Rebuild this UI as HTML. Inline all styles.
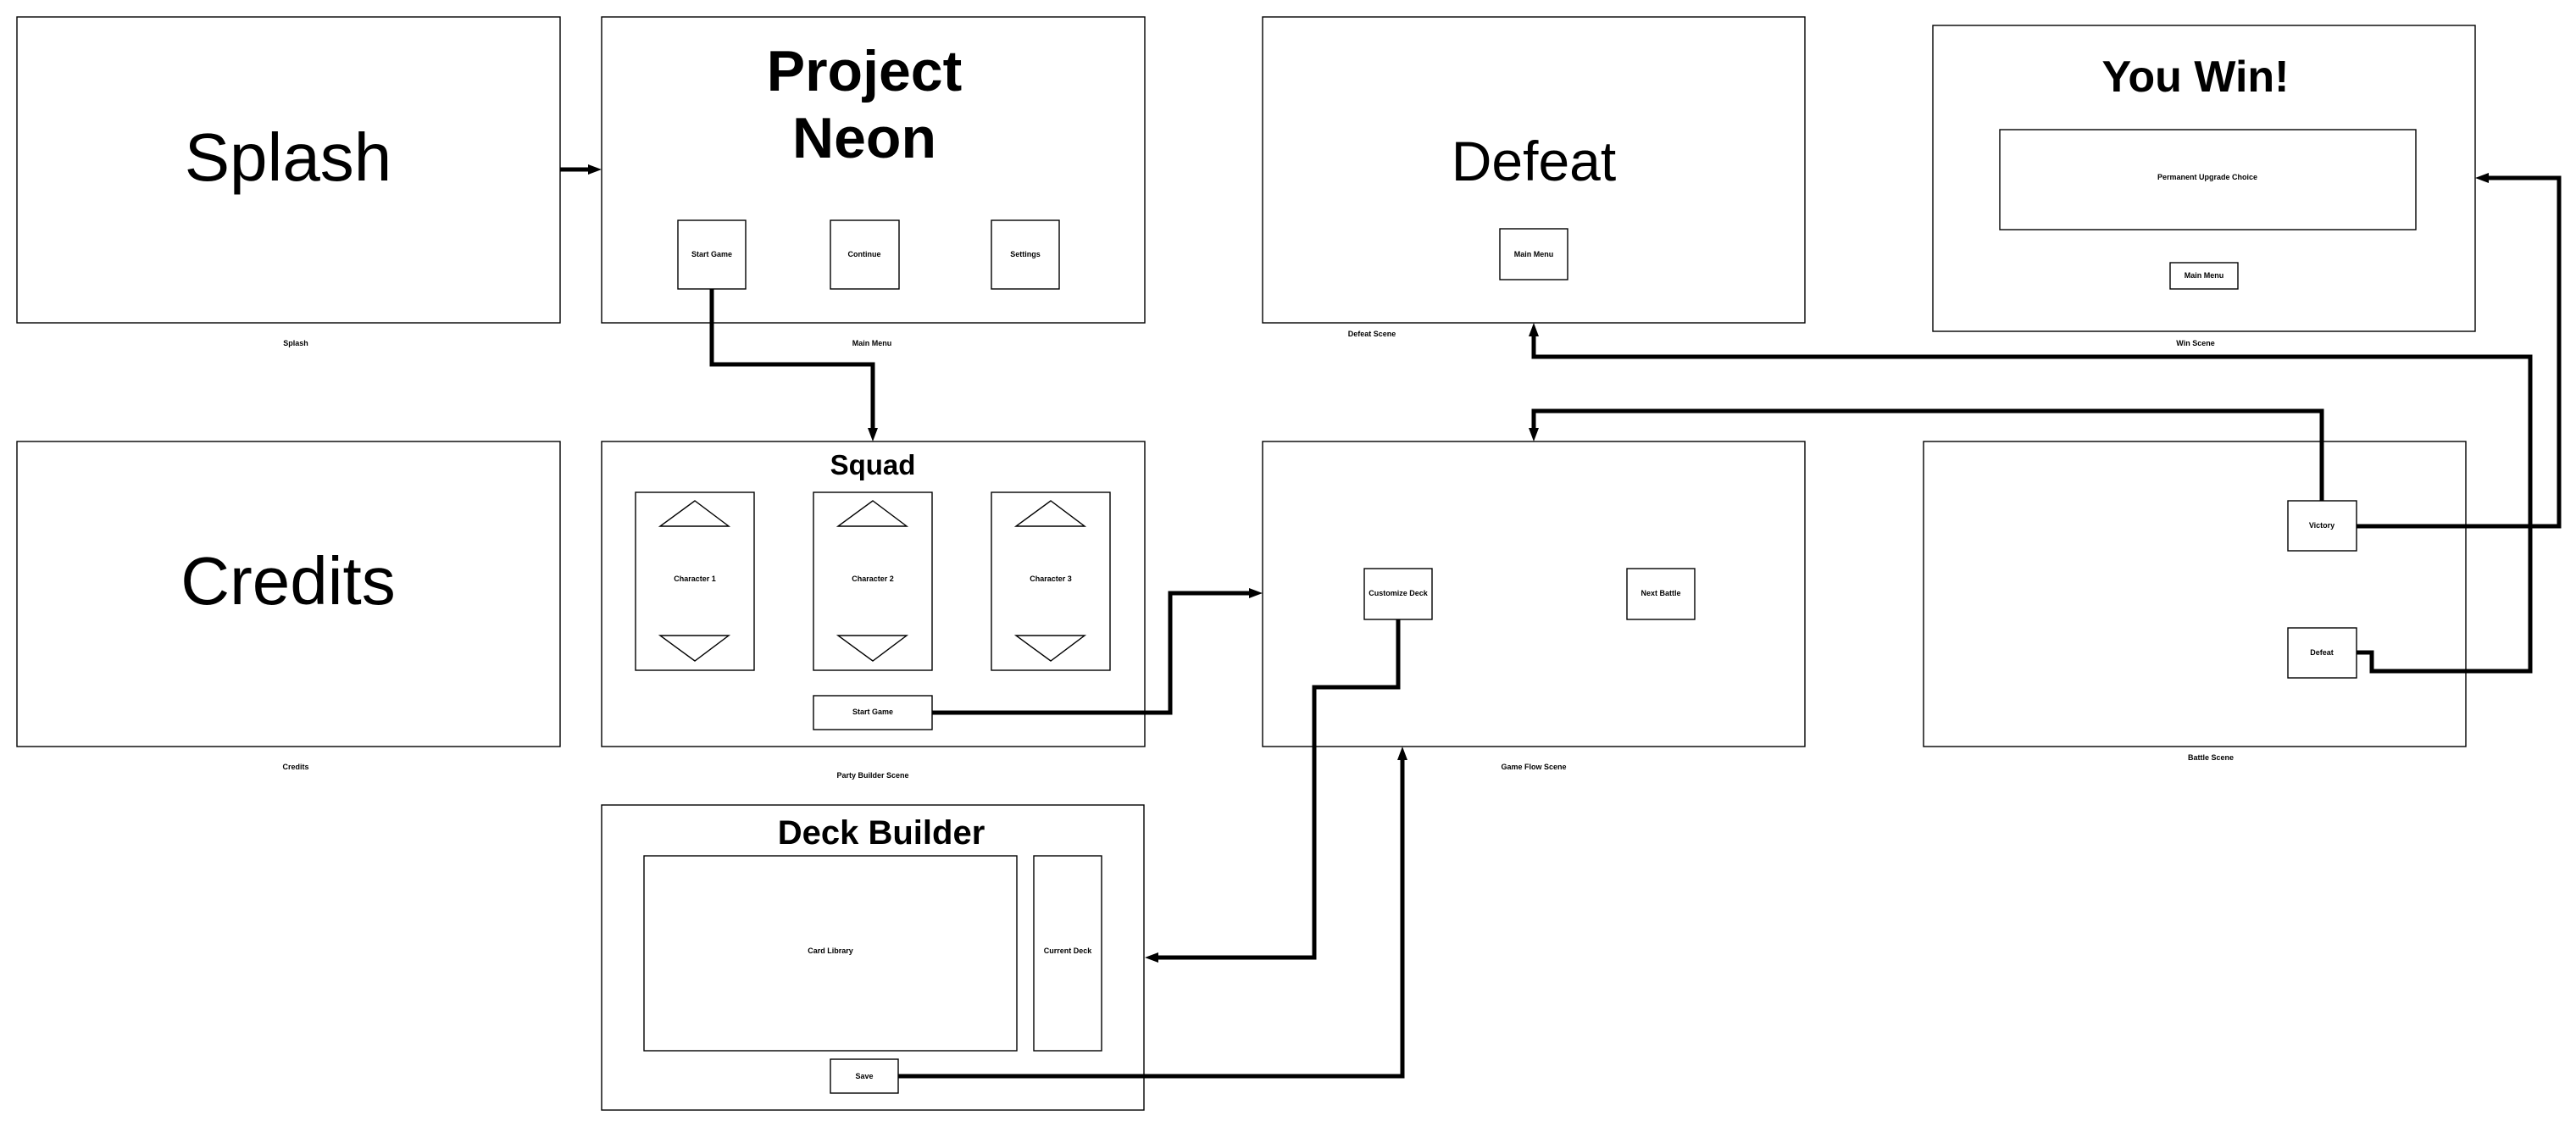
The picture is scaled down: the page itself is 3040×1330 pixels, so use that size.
<!DOCTYPE html>
<html><head><meta charset="utf-8"><style>html,body{margin:0;padding:0;background:#fff}svg{display:block}</style></head><body>
<svg width="3040" height="1330" viewBox="0 0 3040 1330" xmlns="http://www.w3.org/2000/svg" font-family="Liberation Sans, sans-serif">
<g fill="#fff" stroke="#000" stroke-width="1.4">
<rect x="20" y="20" width="641" height="361"/>
<rect x="710" y="20" width="641" height="361"/>
<rect x="1490" y="20" width="640" height="361"/>
<rect x="2281" y="30" width="640" height="361"/>
<rect x="20" y="521" width="641" height="360"/>
<rect x="710" y="521" width="641" height="360"/>
<rect x="1490" y="521" width="640" height="360"/>
<rect x="2270" y="521" width="640" height="360"/>
<rect x="710" y="950" width="640" height="360"/>
<rect x="800" y="260" width="80" height="81"/>
<rect x="980" y="260" width="81" height="81"/>
<rect x="1170" y="260" width="80" height="81"/>
<rect x="1770" y="270" width="80" height="60"/>
<rect x="2360" y="153" width="491" height="118"/>
<rect x="2561" y="310" width="80" height="31"/>
<rect x="750" y="581" width="140" height="210"/>
<rect x="960" y="581" width="140" height="210"/>
<rect x="1170" y="581" width="140" height="210"/>
<rect x="960" y="821" width="140" height="40"/>
<rect x="1610" y="671" width="80" height="60"/>
<rect x="1920" y="671" width="80" height="60"/>
<rect x="2700" y="591" width="81" height="59"/>
<rect x="2700" y="741" width="81" height="59"/>
<rect x="760" y="1010" width="440" height="230"/>
<rect x="1220" y="1010" width="80" height="230"/>
<rect x="980" y="1250" width="80" height="40"/>
<polygon points="779,621 860,621 820,591"/><polygon points="989,621 1070,621 1030,591"/><polygon points="1199,621 1280,621 1240,591"/>
<polygon points="779,750 860,750 820,780"/><polygon points="989,750 1070,750 1030,780"/><polygon points="1199,750 1280,750 1240,780"/>
</g>
<g text-anchor="middle" fill="#000">
<text x="340" y="213" font-size="80">Splash</text>
<text x="340" y="713" font-size="80">Credits</text>
<text x="1020" y="107" font-size="68" font-weight="bold">Project</text>
<text x="1020" y="186" font-size="68" font-weight="bold">Neon</text>
<text x="1810" y="213" font-size="66">Defeat</text>
<text x="2591" y="108" font-size="52" font-weight="bold">You Win!</text>
<text x="1030" y="560" font-size="33" font-weight="bold">Squad</text>
<text x="1040" y="996" font-size="40" font-weight="bold">Deck Builder</text>
<g font-size="9" font-weight="bold">
<text x="840" y="303">Start Game</text><text x="1020" y="303">Continue</text><text x="1210" y="303">Settings</text>
<text x="1810" y="303">Main Menu</text><text x="2605" y="212">Permanent Upgrade Choice</text><text x="2601" y="328">Main Menu</text>
<text x="820" y="686">Character 1</text><text x="1030" y="686">Character 2</text><text x="1240" y="686">Character 3</text>
<text x="1030" y="843">Start Game</text>
<text x="1650" y="703">Customize Deck</text><text x="1960" y="703">Next Battle</text>
<text x="2740" y="623">Victory</text><text x="2740" y="773">Defeat</text>
<text x="980" y="1125">Card Library</text><text x="1260" y="1125">Current Deck</text><text x="1020" y="1273">Save</text>
<text x="349" y="408">Splash</text><text x="1029" y="408">Main Menu</text><text x="1619" y="397">Defeat Scene</text><text x="2591" y="408">Win Scene</text>
<text x="349" y="908">Credits</text><text x="1030" y="918">Party Builder Scene</text><text x="1810" y="908">Game  Flow Scene</text><text x="2609" y="897">Battle Scene</text>
</g></g>
<g fill="none" stroke="#000" stroke-width="5">
<polyline points="661,200 700,200"/>
<polyline points="840,341 840,430 1030,430 1030,508"/>
<polyline points="1100,841 1381,841 1381,700 1478,700"/>
<polyline points="2740,591 2740,485 1810,485 1810,508"/>
<polyline points="2781,621 3020,621 3020,210 2933,210"/>
<polyline points="2781,770 2799,770 2799,792 2986,792 2986,421 1810,421 1810,393"/>
<polyline points="1650,731 1650,811 1551,811 1551,1130 1363,1130"/>
<polyline points="1060,1270 1655,1270 1655,893"/>
</g>
<g fill="#000">
<polygon points="710,200 694,194 694,206"/>
<polygon points="1030,521 1024,505 1036,505"/>
<polygon points="1490,700 1474,694 1474,706"/>
<polygon points="1810,521 1804,505 1816,505"/>
<polygon points="2921,210 2937,204 2937,216"/>
<polygon points="1810,381 1804,397 1816,397"/>
<polygon points="1351,1130 1367,1124 1367,1136"/>
<polygon points="1655,881 1649,897 1661,897"/>
</g>
</svg>
</body></html>
